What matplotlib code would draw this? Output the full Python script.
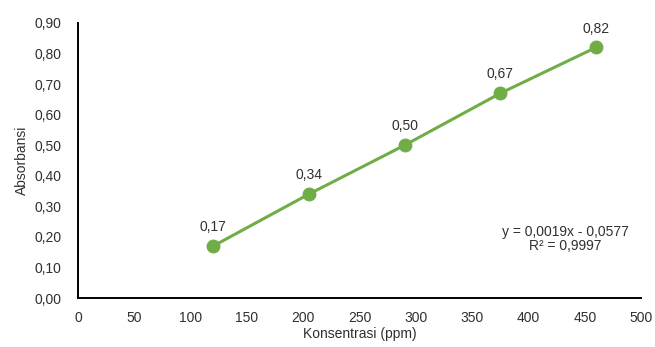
import numpy as np
import matplotlib.pyplot as plt
from matplotlib.ticker import FuncFormatter

konsentrasi = [120, 205, 290, 375, 460]
absorbansi = [0.17, 0.34, 0.50, 0.67, 0.82]
persamaan = "y = 0,0019x - 0,0577\nR² = 0,9997"

hijau = "#70AD47"
teks = "#303030"
plt.rcParams['font.family'] = ['Liberation Sans', 'DejaVu Sans']
plt.rcParams['font.size'] = 10

fig = plt.figure(figsize=(6.55, 3.47), dpi=100)
ax = fig.add_axes([0.119, 0.141, 0.860, 0.793])

ax.plot(konsentrasi, absorbansi, color=hijau, lw=2.2, marker='o', ms=9,
        markeredgecolor=hijau, zorder=3)

for x, y in zip(konsentrasi, absorbansi):
    ax.annotate(f"{y:.2f}".replace('.', ','), (x, y), xytext=(0, 8.5),
                textcoords='offset points', ha='center', va='bottom',
                color=teks)

ax.text(0.865, 0.215, persamaan, transform=ax.transAxes, ha='center',
        va='center', color=teks, linespacing=1.05)

ax.set_xlim(0, 500)
ax.set_ylim(0, 0.9)
ax.set_xticks(np.arange(0, 501, 50))
ax.set_yticks(np.arange(0, 0.91, 0.1))
ax.yaxis.set_major_formatter(FuncFormatter(lambda v, p: f"{v:.2f}".replace('.', ',')))
ax.tick_params(length=0, colors=teks)
ax.tick_params(axis='y', pad=12)
ax.tick_params(axis='x', pad=9)
for s in ['top', 'right']:
    ax.spines[s].set_visible(False)
for s in ['left', 'bottom']:
    ax.spines[s].set_linewidth(1.4)
    ax.spines[s].set_color('black')

ax.set_xlabel("Konsentrasi (ppm)", color=teks, labelpad=2)
ax.set_ylabel("Absorbansi", color=teks, labelpad=4)

fig.savefig("out.png", dpi=100)
